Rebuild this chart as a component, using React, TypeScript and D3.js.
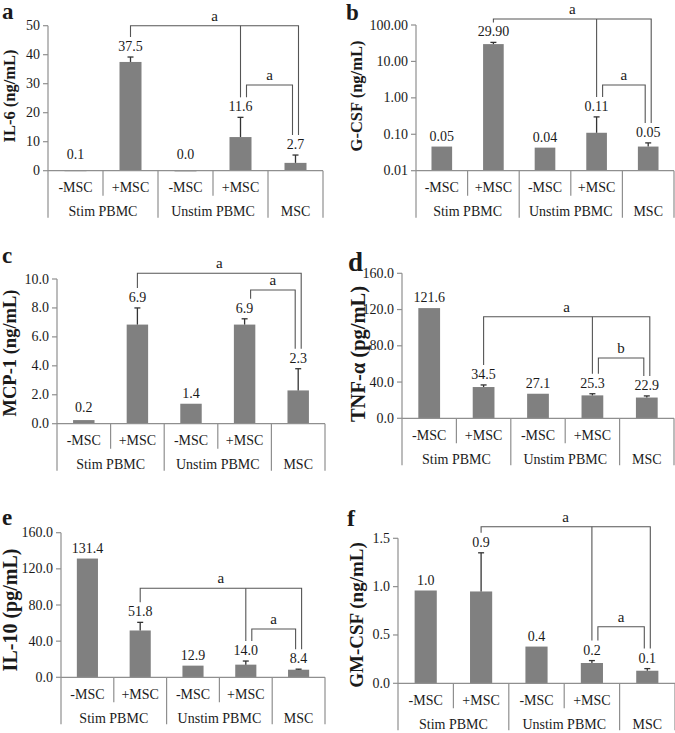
import React from 'react';
import * as d3 from "d3";

// categories shared by every panel
const subLabels = ["-MSC", "+MSC", "-MSC", "+MSC", ""];
const groupLabels = ["Stim PBMC", "Unstim PBMC", "MSC"];
const groupSizes = [2, 2, 1];

// a: IL-6
const il6Values = [0.1, 37.5, 0.04, 11.6, 2.7];
const il6Errors = [0, 1.7, 0, 6.8, 2.7];
const il6Labels = ["0.1", "37.5", "0.0", "11.6", "2.7"];
const il6Ticks = [0, 10, 20, 30, 40, 50];

// b: G-CSF (log)
const gcsfValues = [0.046, 29.9, 0.043, 0.11, 0.046];
const gcsfErrors = [0, 3.4, 0, 0.19, 0.012];
const gcsfLabels = ["0.05", "29.90", "0.04", "0.11", "0.05"];
const gcsfTicks = [0.01, 0.1, 1, 10, 100];

// c: MCP-1
const mcp1Values = [0.25, 6.85, 1.38, 6.85, 2.3];
const mcp1Errors = [0, 1.15, 0, 0.4, 1.5];
const mcp1Labels = ["0.2", "6.9", "1.4", "6.9", "2.3"];
const mcp1Ticks = [0, 2, 4, 6, 8, 10];

// d: TNF-a
const tnfValues = [121.6, 34.5, 27.1, 25.3, 22.9];
const tnfErrors = [0, 2.3, 0, 1.8, 1.8];
const tnfLabels = ["121.6", "34.5", "27.1", "25.3", "22.9"];
const tnfTicks = [0, 40, 80, 120, 160];

// e: IL-10
const il10Values = [131.4, 51.8, 12.9, 14.0, 8.4];
const il10Errors = [0, 9, 0, 4, 0.6];
const il10Labels = ["131.4", "51.8", "12.9", "14.0", "8.4"];
const il10Ticks = [0, 40, 80, 120, 160];

// f: GM-CSF
const gmcsfValues = [0.96, 0.95, 0.38, 0.21, 0.13];
const gmcsfErrors = [0, 0.4, 0, 0.025, 0.022];
const gmcsfLabels = ["1.0", "0.9", "0.4", "0.2", "0.1"];
const gmcsfTicks = [0, 0.5, 1.0, 1.5];

// significance brackets: from / to category, optional middle leg
const bracketsA = [{from: 1, to: 4, mid: 3, text: "a"}, {from: 3, to: 4, text: "a"}];
const bracketsC = [{from: 1, to: 4, text: "a"}, {from: 3, to: 4, text: "a"}];
const bracketsD = [{from: 1, to: 4, mid: 3, text: "a"}, {from: 3, to: 4, text: "b"}];

const panels = [
    {letter: "a", title: "IL-6 (ng/mL)", values: il6Values, errors: il6Errors, labels: il6Labels,
        ticks: il6Ticks, fmt: d3.format("d"), brackets: bracketsA,
        axisX: 48, right: 323, top: 25.7, zero: 170.7, domain: [0, 50],
        letterX: 2, letterY: 19, letterSize: 23, titleX: 9.5, titleY: 96, titleSize: 16.5,
        bracketY: [25.7, 85]},
    {letter: "b", title: "G-CSF (ng/mL)", values: gcsfValues, errors: gcsfErrors, labels: gcsfLabels,
        ticks: gcsfTicks, fmt: d3.format(".2f"), brackets: bracketsA, log: true,
        axisX: 416, right: 674, top: 25, zero: 170.7, domain: [0.01, 100],
        letterX: 346, letterY: 20, letterSize: 23, titleX: 356, titleY: 96, titleSize: 16.5,
        bracketY: [19, 85]},
    {letter: "c", title: "MCP-1 (ng/mL)", values: mcp1Values, errors: mcp1Errors, labels: mcp1Labels,
        ticks: mcp1Ticks, fmt: d3.format(".1f"), brackets: bracketsC,
        axisX: 57, right: 325, top: 279, zero: 423.7, domain: [0, 10],
        letterX: 2, letterY: 263, letterSize: 23, titleX: 10, titleY: 353, titleSize: 18.5,
        bracketY: [273.3, 290]},
    {letter: "d", title: "TNF-α (pg/mL)", values: tnfValues, errors: tnfErrors, labels: tnfLabels,
        ticks: tnfTicks, fmt: d3.format(".1f"), brackets: bracketsD,
        axisX: 402, right: 674, top: 273.3, zero: 418.3, domain: [0, 160],
        letterX: 348, letterY: 271, letterSize: 27, titleX: 358, titleY: 354, titleSize: 20.5,
        bracketY: [316.7, 358]},
    {letter: "e", title: "IL-10 (pg/mL)", values: il10Values, errors: il10Errors, labels: il10Labels,
        ticks: il10Ticks, fmt: d3.format(".1f"), brackets: bracketsA,
        axisX: 61, right: 325, top: 532.7, zero: 677.3, domain: [0, 160],
        letterX: 2, letterY: 525, letterSize: 23, titleX: 10, titleY: 610, titleSize: 20,
        bracketY: [588.3, 629]},
    {letter: "f", title: "GM-CSF (ng/mL)", values: gmcsfValues, errors: gmcsfErrors, labels: gmcsfLabels,
        ticks: gmcsfTicks, fmt: d3.format(".1f"), brackets: bracketsA,
        axisX: 398, right: 675, top: 538.3, zero: 683.3, domain: [0, 1.5],
        letterX: 347, letterY: 526, letterSize: 24, titleX: 356, titleY: 615, titleSize: 19,
        bracketY: [526.7, 626.7]},
];

const FONT = "'Liberation Serif', 'Times New Roman', serif";
const AXIS = "#8f8f8f";
const BAR = "#808080";
const INK = "#1a1a1a";
const LINE = "#555";

function Panel({p}: any) {
    const idx = d3.range(p.values.length);
    const x = d3.scaleBand<number>().domain(idx).range([p.axisX, p.right]);
    const y = (p.log ? d3.scaleLog() : d3.scaleLinear()).domain(p.domain).range([p.zero, p.top]);
    const bw = x.bandwidth();
    const cx = (i: number) => (x(i) as number) + bw / 2;
    const errTop = (i: number) => y(p.values[i] + p.errors[i]);
    const labelBase = (i: number) => Math.min(errTop(i) - 6, p.zero - 12);
    const legEnd = (i: number) => labelBase(i) - 14;

    // x-axis separators
    const seps: any[] = [];
    let k = 0;
    seps.push({x: p.axisX, long: true});
    groupSizes.forEach((n) => {
        for (let j = 1; j < n; j++) seps.push({x: x(k + j) as number, long: false});
        k += n;
        seps.push({x: k < idx.length ? (x(k) as number) : p.right, long: true});
    });
    let g0 = 0;
    const groups = groupLabels.map((g, gi) => {
        const a = x(g0) as number;
        g0 += groupSizes[gi];
        const b = g0 < idx.length ? (x(g0) as number) : p.right;
        return {label: g, cx: (a + b) / 2};
    });

    return (
        <g fontFamily={FONT}>
            <text x={p.letterX} y={p.letterY} fontSize={p.letterSize} fontWeight="bold" fill={INK}>{p.letter}</text>
            <text transform={`translate(${p.titleX},${p.titleY}) rotate(-90)`} textAnchor="middle"
                  dominantBaseline="central" fontSize={p.titleSize} fontWeight="bold" fill={INK}>{p.title}</text>

            {/* y axis */}
            <line x1={p.axisX} x2={p.axisX} y1={p.top} y2={p.zero} stroke={AXIS} strokeWidth={1.2}/>
            {p.ticks.map((t: number) => (
                <g key={t}>
                    <line x1={p.axisX - 5} x2={p.axisX} y1={y(t)} y2={y(t)} stroke={AXIS} strokeWidth={1.2}/>
                    <text x={p.axisX - 8} y={y(t)} textAnchor="end" dominantBaseline="central"
                          fontSize={14} fill={INK}>{p.fmt(t)}</text>
                </g>
            ))}

            {/* bars */}
            {idx.map(i => (
                <rect key={"b" + i} x={cx(i) - bw * 0.2} width={bw * 0.4} y={y(p.values[i])}
                      height={Math.max(0.8, p.zero - y(p.values[i]))} fill={BAR}/>
            ))}
            {idx.filter(i => p.errors[i] > 0).map(i => (
                <g key={"e" + i} stroke="#333" strokeWidth={1.3}>
                    <line x1={cx(i)} x2={cx(i)} y1={y(p.values[i])} y2={errTop(i)}/>
                    <line x1={cx(i) - 3} x2={cx(i) + 3} y1={errTop(i)} y2={errTop(i)}/>
                </g>
            ))}
            {idx.map(i => (
                <text key={"l" + i} x={cx(i)} y={labelBase(i)} textAnchor="middle" fontSize={14}
                      fill={INK}>{p.labels[i]}</text>
            ))}

            {/* x axis */}
            <line x1={p.axisX} x2={p.right} y1={p.zero} y2={p.zero} stroke={AXIS} strokeWidth={1.2}/>
            {seps.map((s, i) => (
                <line key={"s" + i} x1={s.x} x2={s.x} y1={p.zero} y2={p.zero + (s.long ? 47 : 25)}
                      stroke={AXIS} strokeWidth={1.2}/>
            ))}
            {idx.map(i => (
                <text key={"c" + i} x={cx(i)} y={p.zero + 17} textAnchor="middle" dominantBaseline="central"
                      fontSize={14} fill={INK}>{subLabels[i]}</text>
            ))}
            {groups.map(g => (
                <text key={g.label} x={g.cx} y={p.zero + 41} textAnchor="middle" dominantBaseline="central"
                      fontSize={14} fill={INK}>{g.label}</text>
            ))}

            {/* significance brackets */}
            {p.brackets.map((b: any, bi: number) => {
                const by = p.bracketY[bi];
                const inner = bi > 0;
                const x1 = cx(b.from) + (inner ? 6 : 0);
                const x2 = cx(b.to) + (inner ? -3 : 3);
                return (
                    <g key={"k" + bi} stroke={LINE} strokeWidth={1.1} fill="none">
                        <path d={`M${x1},${legEnd(b.from)}V${by}H${x2}V${legEnd(b.to)}`}/>
                        {b.mid !== undefined &&
                            <line x1={cx(b.mid)} x2={cx(b.mid)} y1={by} y2={legEnd(b.mid)}/>}
                        <text x={(x1 + x2) / 2} y={by - 5} textAnchor="middle" fontSize={15} fill={INK}
                              stroke="none">{b.text}</text>
                    </g>
                );
            })}
        </g>
    );
}

export default function App() {
    return (
        <svg width={675} height={733} style={{position: "absolute", left: 0, top: 0, background: "#fff"}}>
            {panels.map(p => <Panel key={p.letter} p={p}/>)}
        </svg>
    );
}
